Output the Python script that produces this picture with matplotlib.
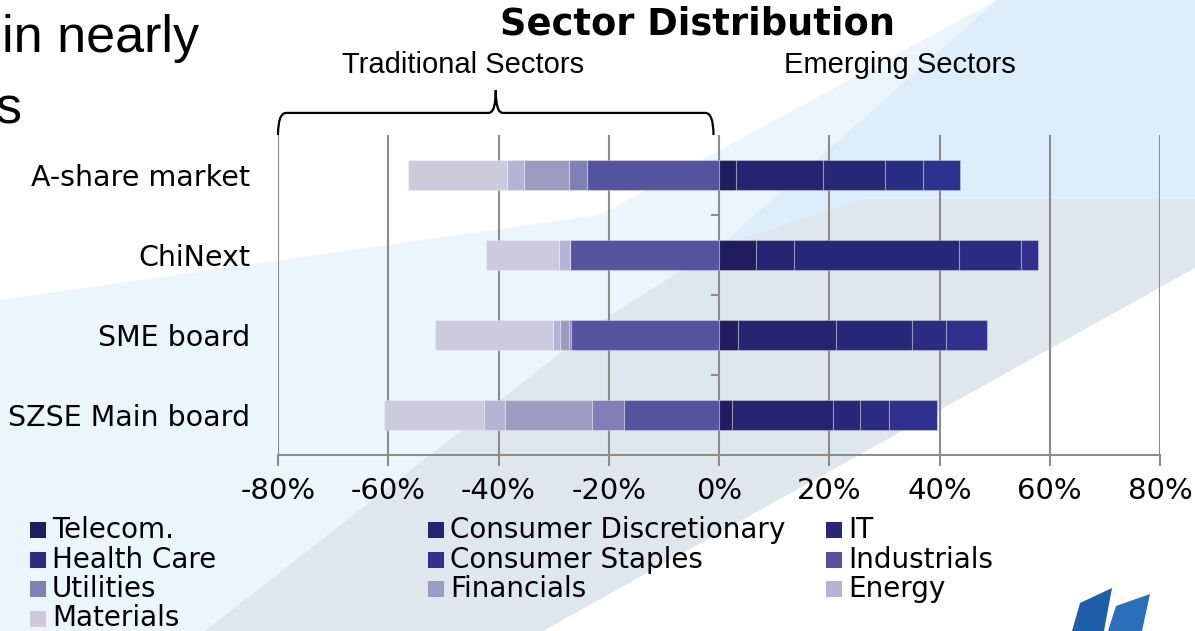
import matplotlib
matplotlib.use("Agg")
import matplotlib.pyplot as plt
import numpy as np
from matplotlib.patches import Polygon, Rectangle, PathPatch
from matplotlib.path import Path
import matplotlib.transforms as mtransforms

# data (% of market value)
markets = ["A-share market", "ChiNext", "SME board", "SZSE Main board"]

# emerging sectors (right side), stacked from 0 outwards
telecom = [3.0, 6.7, 3.4, 2.4]
cons_disc = [15.9, 6.9, 17.9, 18.3]
it = [11.2, 29.9, 13.7, 4.9]
health = [6.9, 11.3, 6.2, 5.2]
cons_stap = [6.8, 3.1, 7.5, 8.7]

# traditional sectors (left side), stacked from 0 outwards
industrials = [23.9, 27.1, 26.8, 17.2]
utilities = [3.3, 0.0, 0.5, 5.9]
financials = [8.2, 0.0, 1.5, 15.8]
energy = [3.1, 1.9, 1.4, 3.8]
materials = [17.9, 13.3, 21.4, 18.1]

sectors = ["Telecom.", "Consumer Discretionary", "IT", "Health Care", "Consumer Staples",
           "Industrials", "Utilities", "Financials", "Energy", "Materials"]
colors = ["#1e1e5c", "#242470", "#272878", "#2b2c84", "#30308f",
          "#55559f", "#8080b4", "#9c9cc0", "#b4b4d4", "#cccadc"]

emerging = [telecom, cons_disc, it, health, cons_stap]
traditional = [industrials, utilities, financials, energy, materials]

ticks = [-80, -60, -40, -20, 0, 20, 40, 60, 80]

W, H = 1195, 631
fig = plt.figure(figsize=(W / 100, H / 100), dpi=100)


def fx(x):
    return x / W


def fy(y):
    return 1 - y / H


# background axes in pixel units (y down)
bgax = fig.add_axes([0, 0, 1, 1], zorder=-1)
bgax.set_xlim(0, W)
bgax.set_ylim(H, 0)
bgax.axis("off")

bg = [
    ([(0, 300), (600, 215), (997, 0), (1195, 0), (1195, 631), (0, 631)], "#eaf5fc"),
    ([(997, 0), (1195, 0), (1195, 199), (863, 199), (721, 245)], "#ddeefa"),
    ([(205, 631), (600, 322), (721, 245), (863, 199), (1195, 199), (1195, 268), (543, 631)], "#dfe7ee"),
    ([(543, 631), (1195, 268), (1195, 631)], "#ffffff"),
]
for pts, c in bg:
    bgax.add_patch(Polygon(pts, closed=True, facecolor=c, edgecolor="none", zorder=0))

ax = fig.add_axes([fx(278), fy(455), fx(882), 320 / H])
ax.set_facecolor("none")

y = np.arange(len(markets))
bh = 0.38
edge = (1, 1, 1, 0.3)

cum = np.zeros(len(markets))
for vals, c in zip(emerging, colors[:5]):
    v = np.array(vals)
    ax.barh(y, v, left=cum, height=bh, color=c, edgecolor=edge, linewidth=0.8, zorder=3)
    cum += v

cum = np.zeros(len(markets))
for vals, c in zip(traditional, colors[5:]):
    v = np.array(vals)
    ax.barh(y, -v, left=-cum, height=bh, color=c, edgecolor=edge, linewidth=0.8, zorder=3)
    cum += v

ax.set_xlim(-80, 80)
ax.set_ylim(3.5, -0.5)
ax.set_xticks(ticks)
ax.set_xticklabels([f"{t}%" for t in ticks], fontsize=21, family="DejaVu Sans")
ax.set_yticks(y)
ax.set_yticklabels(markets, fontsize=20.5, family="DejaVu Sans")
ax.tick_params(axis="y", length=0, pad=20)
ax.tick_params(axis="x", length=8, width=1.5, color="#8c8c8c", pad=8)
ax.grid(axis="x", color="#8c8c8c", linewidth=1.5, zorder=1)
for s in ["top", "right", "left"]:
    ax.spines[s].set_visible(False)
ax.spines["bottom"].set_color("#8c8c8c")
ax.spines["bottom"].set_linewidth(1.5)

# short category ticks on the zero line
ax.hlines([0.5, 1.5, 2.5], -1.5, 0, color="#8c8c8c", linewidth=1.5, zorder=2)

# brace over the traditional side
tr = mtransforms.blended_transform_factory(ax.transData, ax.transAxes)
yb, yc = 1.069, 1.14
verts = [(-80, 1.0), (-80, yb), (-78.5, yb),
         (-41.8, yb),
         (-40.5, yb), (-40.5, yc),
         (-40.5, yb), (-39.2, yb),
         (-2.5, yb),
         (-1.0, yb), (-1.0, 1.0)]
codes = [Path.MOVETO, Path.CURVE3, Path.CURVE3,
         Path.LINETO,
         Path.CURVE3, Path.CURVE3,
         Path.CURVE3, Path.CURVE3,
         Path.LINETO,
         Path.CURVE3, Path.CURVE3]
ax.add_patch(PathPatch(Path(verts, codes), transform=tr, facecolor="none",
                       edgecolor="black", linewidth=1.6, clip_on=False, zorder=4))

# titles
fig.text(fx(697), fy(24), "Sector Distribution", fontsize=26.5, fontweight="bold",
         family="DejaVu Sans", ha="center", va="center")
fig.text(fx(463), fy(65), "Traditional Sectors", fontsize=21, family="Liberation Sans",
         ha="center", va="center")
fig.text(fx(900), fy(65), "Emerging Sectors", fontsize=21, family="Liberation Sans",
         ha="center", va="center")

# slide text cut off at the left
fig.text(fx(2), fy(52), "in nearly", fontsize=37.5, family="Liberation Sans",
         ha="left", va="baseline")
fig.text(fx(-4), fy(123), "s", fontsize=37.5, family="Liberation Sans",
         ha="left", va="baseline")

# legend, three columns, row-wise
col_x = [30, 428, 826]
for i, (name, c) in enumerate(zip(sectors, colors)):
    r, k = divmod(i, 3)
    x0 = col_x[k]
    yc_px = 530 + 29.5 * r
    bgax.add_patch(Rectangle((x0, yc_px - 8), 16, 16, facecolor=c, edgecolor="none", zorder=2))
    fig.text(fx(x0 + 22), fy(yc_px), name, fontsize=20, family="DejaVu Sans",
             ha="left", va="center")

# logo fragment bottom right
logo = [
    ([(1072, 631), (1080, 603), (1112, 588), (1104, 631)], "#1f5ea8"),
    ([(1108, 631), (1116, 606), (1150, 594), (1142, 631)], "#2b6fb8"),
]
for pts, c in logo:
    bgax.add_patch(Polygon(pts, closed=True, facecolor=c, edgecolor="none", zorder=2))

plt.savefig("out.png", dpi=100)
